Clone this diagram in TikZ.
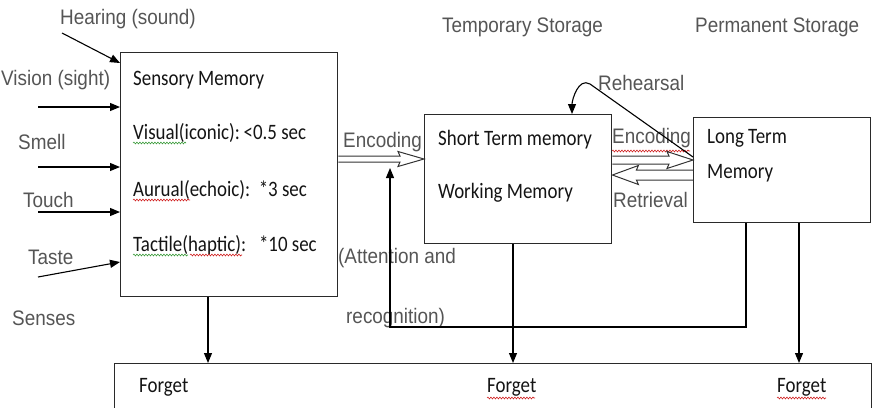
\documentclass[tikz,border=0pt]{standalone}
\usepackage{fontspec}
\usetikzlibrary{arrows.meta,calc,decorations.pathmorphing}
\newfontfamily\labfont[FakeStretch=0.9]{Liberation Sans}
\newfontfamily\calfont[FakeStretch=0.86]{Carlito}
\definecolor{labgray}{HTML}{555555}
\definecolor{boxline}{HTML}{2A2A2A}
\definecolor{txt}{HTML}{141414}
\definecolor{sqred}{HTML}{D02020}
\definecolor{sqgreen}{HTML}{3A9A3A}
\begin{document}
\begin{tikzpicture}[x=1pt,y=-1pt,
 lab/.style={font=\labfont\fontsize{21}{24}\selectfont, text=labgray, anchor=west, inner sep=0pt},
 mem/.style={font=\calfont\fontsize{22}{26}\selectfont, text=txt, anchor=west, inner sep=0pt},
 box/.style={draw=boxline, line width=1.4pt, anchor=north west, inner sep=0pt},
 arr/.style={draw=black, line width=1.1pt, -{Triangle[length=10pt,width=8pt]}},
 hol/.style={draw=black!80, line width=1pt, line join=miter},
 squig/.style={decorate, decoration={snake, amplitude=0.9pt, segment length=3pt}, line width=0.6pt}]
\useasboundingbox (0,0) rectangle (872,407);
\clip (0,0) rectangle (872,407);

% boxes
\node[box, minimum width=217pt, minimum height=244pt] (sens) at (120,52) {};
\node[box, minimum width=187pt, minimum height=129pt] (stm) at (424,114) {};
\node[box, minimum width=177pt, minimum height=105pt] (ltm) at (693,117) {};
\node[box, minimum width=757pt, minimum height=80pt] (fgt) at (114,363) {};

% labels
\node[lab] (hear) at (60,19) {Hearing (sound)};
\node[lab] (vis) at (1,80) {Vision (sight)};
\node[lab] (smell) at (18,142) {Smell};
\node[lab] (touch) at (23,200) {Touch};
\node[lab] (taste) at (28,257) {Taste};
\node[lab] (senses) at (12,318) {Senses};
\node[lab] (temp) at (442,27) {Temporary Storage};
\node[lab] (perm) at (695,27) {Permanent Storage};
\node[lab] (enc1) at (343,142) {Encoding};
\node[lab] (enc2) at (612,138) {Encoding};
\node[lab] (retr) at (613,200) {Retrieval};
\node[lab] (reh) at (598,83) {Rehearsal};
\node[lab] (att1) at (338,258) {(Attention and};
\node[lab] (att2) at (346,318) {recognition)};

% memory texts
\node[mem] (sm) at (133,80) {Sensory Memory};
\node[mem] (vi) at (133,133) {Visual(iconic):\,<0.5 sec};
\node[mem] (au) at (133,190) {Aurual(echoic):\ \ *3 sec};
\node[mem] (ta) at (133,245) {Tactile(haptic):\ \ \ *10 sec};
\node[mem] (st) at (438,140) {Short Term memory};
\node[mem] (wm) at (438,193) {Working Memory};
\node[mem] (lt1) at (707,138) {Long Term};
\node[mem] (lt2) at (707,173) {Memory};
\node[mem] (f1) at (139,387) {Forget};
\node[mem] (f2) at (487,387) {Forget};
\node[mem] (f3) at (777,387) {Forget};

% spell-check squiggles
\draw[squig, sqgreen] (133,143) -- (186,143);
\draw[squig, sqred] (133,200) -- (190,200);
\draw[squig, sqgreen] (133,255) -- (188,255);
\draw[squig, sqred] (190,255) -- (242,255);
\draw[squig, sqred] (612,151) -- (690,151);
\draw[squig, sqred] (487,398) -- (535,398);
\draw[squig, sqred] (777,398) -- (826,398);

% sense arrows
\coordinate (h0) at (62,33);
\coordinate (h1) at (118,63);
\coordinate (v0) at (38,107);
\coordinate (s0) at (38,167);
\coordinate (t0) at (38,212);
\coordinate (ta0) at (38,277);
\coordinate (ta1) at (118,262);
\draw[arr] (h0) -- (sens.west |- h1);
\draw[arr] (v0) -- (v0 -| sens.west);
\draw[arr] (s0) -- (s0 -| sens.west);
\draw[arr] (t0) -- (t0 -| sens.west);
\draw[arr] (ta0) -- (sens.west |- ta1);

% hollow arrows
\draw[hol] (sens.east |- 0,156) -- ($(stm.west |- 0,156)+(-24,0)$) -- ++(-2,-4.5)
  -- (stm.west |- 0,159) -- ++(-26,7.5) -- ++(2,-4.5) -- (sens.east |- 0,162);
\draw[hol] (stm.east |- 0,156) -- ($(ltm.west |- 0,156)+(-24,0)$) -- ++(-2,-4.5)
  -- (ltm.west |- 0,160) -- ++(-26,8.5) -- ++(2,-4.5) -- (stm.east |- 0,164);
\draw[hol] (ltm.west |- 0,170) -- ($(stm.east |- 0,170)+(24,0)$) -- ++(2,-4.5)
  -- (stm.east |- 0,175) -- ++(26,9.5) -- ++(-2,-4.5) -- (ltm.west |- 0,180);

% rehearsal
\coordinate (r1) at (590,84);
\coordinate (r2) at (572,114);
\draw[arr] (ltm.west |- 0,157) -- (r1) to[out=150,in=90] (stm.north -| r2);

% attention feedback
\coordinate (fb) at (746,327);
\coordinate (att) at (390,168);
\draw[arr] (ltm.south -| fb) -- (fb) -| (att);

% forget arrows
\coordinate (fa) at (208,0);
\coordinate (fbb) at (513,0);
\coordinate (fc) at (799,0);
\draw[arr] (sens.south -| fa) -- (fgt.north -| fa);
\draw[arr] (stm.south -| fbb) -- (fgt.north -| fbb);
\draw[arr] (ltm.south -| fc) -- (fgt.north -| fc);
\end{tikzpicture}
\end{document}
